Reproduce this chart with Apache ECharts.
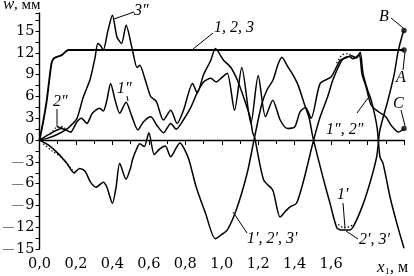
<!DOCTYPE html>
<html><head><meta charset="utf-8">
<script src="https://cdn.jsdelivr.net/npm/echarts@6/dist/echarts.min.js"></script>
<style>html,body{margin:0;padding:0;background:#fff}#c{width:414px;height:276px}</style>
</head><body><div id="c"></div>
<script>
// Curve 1, 2, 3 (ends at A)
const line123 = [[0,0],[0.02,2.5],[0.04,5.5],[0.058,9.2],[0.067,10.7],[0.081,11.3],[0.122,11.7],[0.158,12.4],[2.0,12.4]];
// Curve 1', 2', 3' (ends at B)
const lineN = [[0,0],[0.05,-0.7],[0.1,-1.8],[0.15,-3.2],[0.19,-4.5],[0.22,-3.9],[0.25,-4.3],[0.28,-5.8],[0.31,-6.5],[0.35,-5.8],[0.37,-6.5],[0.40,-8.7],[0.42,-6.5],[0.44,-3.2],[0.475,-5.4],[0.5,-3.8],[0.51,-2.7],[0.53,-1.4],[0.55,-0.5],[0.575,-0.9],[0.6,1.0],[0.63,-2.0],[0.66,-1.2],[0.69,-0.8],[0.72,-2.3],[0.77,-0.4],[0.79,-1.0],[0.82,-2.7],[0.86,-6.5],[0.91,-10],[0.965,-13.6],[1.0,-13.0],[1.03,-12.4],[1.08,-9.6],[1.14,-4.5],[1.18,0.4],[1.22,5],[1.25,7],[1.28,8.2],[1.31,10.5],[1.33,11.4],[1.36,10.2],[1.39,9],[1.42,7.5],[1.45,5.2],[1.48,3],[1.5,0.4],[1.555,-5.1],[1.594,-8.7],[1.632,-12.1],[1.66,-12.4],[1.70,-12.4],[1.72,-12.0],[1.77,-9.2],[1.813,-5.9],[1.85,-2.3],[1.868,1.4],[1.912,5.5],[1.945,8.9],[1.967,12.1],[1.989,14.3],[2.0,15.1]];
// Curve 1'', 2'' (ends at C)
const lineP = [[0,0],[0.04,0.6],[0.075,1.1],[0.12,1.6],[0.17,1.1],[0.205,2.5],[0.23,3.0],[0.26,2.3],[0.29,3.7],[0.33,4.4],[0.35,4.0],[0.37,5.5],[0.39,7.8],[0.415,5.5],[0.44,3.7],[0.475,5.2],[0.505,3.4],[0.54,1.4],[0.57,2.5],[0.61,3.2],[0.645,2.0],[0.68,1.0],[0.72,2.3],[0.75,1.5],[0.79,2.8],[0.83,4.5],[0.865,6.5],[0.9,8.0],[0.94,8.5],[0.97,8],[1.0,8.6],[1.03,9.2],[1.07,4.1],[1.11,10],[1.16,2.3],[1.2,8.9],[1.24,3.2],[1.28,5.5],[1.32,2.8],[1.36,1.6],[1.4,1.8],[1.43,3.9],[1.46,4.5],[1.49,3.0],[1.54,7.8],[1.6,8.7],[1.65,11],[1.68,11.3],[1.71,11.6],[1.74,11.3],[1.755,11.8],[1.77,9],[1.79,7.5],[1.82,4.8],[1.86,3.9],[1.9,3.2],[1.93,2.0],[1.97,1.1],[2.0,1.6]];
// Curve 3''
const line3pp = [[0,0],[0.05,0.3],[0.1,0.8],[0.15,1.5],[0.18,2.2],[0.206,3],[0.24,5.9],[0.277,8.3],[0.305,11.4],[0.32,13.3],[0.335,13.0],[0.35,12.4],[0.375,15],[0.40,17.2],[0.425,14.2],[0.45,13.3],[0.475,15.8],[0.51,12.4],[0.535,10],[0.55,10.3],[0.58,8.3],[0.61,6],[0.635,5.5],[0.645,5.1],[0.68,2.75],[0.72,4.1],[0.755,2.3],[0.79,4.1],[0.84,7.8],[0.865,6.5],[0.9,9],[0.94,11],[0.965,12.6],[1.01,11],[1.05,10],[1.085,8.3],[1.12,5.9],[1.155,3.2],[1.17,1],[1.18,0.4],[1.23,-5.5],[1.28,-6.9],[1.32,-10.6],[1.35,-9.8],[1.375,-9.2],[1.41,-8.7],[1.45,-5.5],[1.5,-0.4],[1.54,3.2],[1.58,5.9],[1.61,8.3],[1.65,10.6],[1.67,11.3],[1.70,11.5],[1.72,11.2],[1.745,11.6],[1.76,12.1],[1.775,9.2],[1.80,6.9],[1.82,5.5],[1.852,1.8],[1.868,-2.3],[1.885,-3.2],[1.923,-7.8],[1.96,-11.4],[2.0,-14.9]];
// Dotted variants (2'' near start, 1' near minimum, peaks near 1.7)
const dot2pp = [[0.06,0.8],[0.09,1.7],[0.12,1.9],[0.15,1.4],[0.18,1.0]];
const dotN0 = [[0.02,-0.5],[0.07,-1.5],[0.12,-2.4],[0.17,-3.8],[0.2,-4.8]];
const dot1p = [[1.64,-11.6],[1.67,-12.1],[1.70,-11.9],[1.73,-11.6]];
const dotPeak = [[1.63,10.6],[1.66,11.7],[1.69,11.9],[1.72,11.5]];
const endPoints = [line123[line123.length-1], lineN[lineN.length-1], lineP[lineP.length-1]];

const xLabelMax = 1.6;
const FONT = '"Liberation Serif", "Times New Roman", serif';
const TICKFONT = '"DejaVu Serif", serif';

const chart = echarts.init(document.getElementById('c'), null, {renderer:'canvas'});
const solid = (data, w, sm) => ({type:'line', data, showSymbol:false, clip:false, smooth:sm,
  lineStyle:{color:'#000', width:w}, silent:true});
const dotted = (data) => ({type:'line', data, showSymbol:false, clip:false, smooth:0.3,
  lineStyle:{color:'#000', width:1.2, type:[1.5,2]}, silent:true});

chart.setOption({
  animation:false,
  grid:{left:39.5, right:10, top:13, bottom:27, containLabel:false},
  xAxis:{type:'value', min:0, max:2.0, interval:0.2,
    axisLine:{lineStyle:{color:'#000', width:1.4}},
    axisTick:{show:true, length:5, lineStyle:{color:'#000', width:1}},
    minorTick:{show:true, splitNumber:2, length:4, lineStyle:{color:'#000', width:1}},
    splitLine:{show:false},
    axisLabel:{color:'#000', fontFamily:TICKFONT, fontSize:14.5, margin:8,
      formatter:v => v <= xLabelMax + 1e-9 ? v.toFixed(1).replace('.', ',') : ''}
  },
  yAxis:{type:'value', min:-15, max:17.5, interval:3,
    axisLine:{show:true, lineStyle:{color:'#000', width:1.4}},
    axisTick:{show:true, length:4, lineStyle:{color:'#000', width:1}},
    minorTick:{show:true, splitNumber:2, length:4, lineStyle:{color:'#000', width:1}},
    splitLine:{show:false},
    axisLabel:{color:'#000', fontFamily:TICKFONT, fontSize:14.5, margin:5, showMaxLabel:false,
      formatter:v => (Math.abs(v % 3) < 1e-9) ? (v < 0 ? '{d|\u2014}{n|' + Math.abs(v) + '}' : '{n|' + v + '}') : '',
      rich:{d:{fontFamily:FONT, fontSize:11, color:'#000', padding:[0,2,0,0]}, n:{fontFamily:TICKFONT, fontSize:14.5, color:'#000'}}}
  },
  series:[
    solid(line123, 1.9, 0.2),
    solid(lineN, 1.5, 0.25),
    solid(lineP, 1.5, 0.25),
    solid(line3pp, 1.5, 0.25),
    dotted(dot2pp), dotted(dotN0), dotted(dot1p), dotted(dotPeak),
    {type:'scatter', data:endPoints, symbolSize:5.5, clip:false, itemStyle:{color:'#000'}, silent:true}
  ]
});

const it = (t, x, y, size) => ({type:'text', style:{text:t, x, y, font:'italic ' + (size||16) + 'px ' + FONT, fill:'#000', verticalAlign:'middle', align:'left'}});
const rm = (t, x, y, size) => ({type:'text', style:{text:t, x, y, font:(size||15) + 'px ' + FONT, fill:'#000', verticalAlign:'middle', align:'left'}});
const ln = (pts) => ({type:'polyline', shape:{points:pts}, style:{stroke:'#000', lineWidth:1, fill:null}});

chart.setOption({graphic:[
  it('w', 3, 5, 17), rm(', мм', 14, 5, 15),
  it('x', 377, 268, 17), rm('1', 385, 272, 9), rm(', м', 390, 268, 16),
  it('3\u2033', 134, 11), ln([[134,12],[114,19]]),
  it('1, 2, 3', 214, 28), ln([[213,33],[193,49]]),
  it('1\u2033', 117, 89), ln([[127,96],[128,101]]),
  it('2\u2033', 53, 102), ln([[57,109],[57,127],[63,128]]),
  it('1\u2032, 2\u2032, 3\u2032', 247, 239), ln([[247,233],[233,212]]),
  it('1\u2032', 337, 195), ln([[343,203],[345,228]]),
  it('2\u2032, 3\u2032', 359, 240), ln([[358,239],[346,231]]),
  it('1\u2033, 2\u2033', 326, 130), ln([[357,113],[368,98]]),
  it('B', 379, 17), ln([[391,18],[402,27],[405,30]]),
  it('A', 396, 78), ln([[403,70],[405,52]]),
  it('C', 393, 104), ln([[401,110],[405,126]])
]});
</script></body></html>
